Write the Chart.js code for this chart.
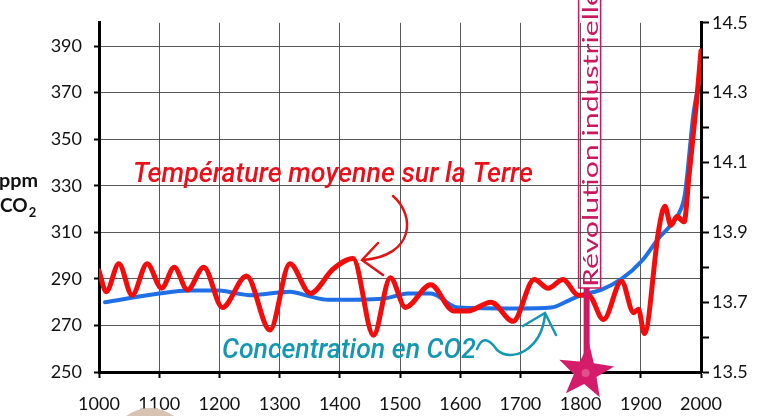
<!DOCTYPE html>
<html>
<head>
<meta charset="utf-8">
<script src="https://cdn.jsdelivr.net/npm/chart.js@4"></script>
<style>
  html, body { margin: 0; padding: 0; background: #fff; }
  #wrap { width: 761px; height: 416px; }
</style>
</head>
<body>
<div id="wrap"><canvas id="chart" width="761" height="416"></canvas></div>
<script>
// CO2 concentration (ppm, left axis)
const co2Years  = [1010, 1100, 1150, 1200, 1230, 1250, 1317, 1350, 1380, 1472, 1513, 1551, 1596, 1696, 1751, 1780, 1801, 1835, 1868, 1902, 1930, 1946, 1963, 1973, 1988, 2000];
const co2Values = [280, 283.7, 285, 285, 283.7, 283, 284.5, 282.5, 281, 281.5, 283.7, 283.7, 277.7, 277.3, 277.7, 280.7, 283, 285.4, 290, 297.8, 307.6, 312, 318, 326, 362, 378];

// mean temperature of the Earth (°C, right axis)
const tempYears  = [1000, 1012, 1033, 1055, 1080, 1104, 1125, 1147, 1174, 1205, 1245, 1284, 1317, 1351, 1389, 1422, 1456, 1484, 1509, 1551, 1589, 1613, 1651, 1688, 1723, 1746, 1771, 1796, 1813, 1838, 1868, 1888, 1896, 1906, 1930, 1940, 1950, 1960, 1972, 1980, 1993, 2000];
const tempValues = [13.79, 13.73, 13.81, 13.72, 13.81, 13.74, 13.80, 13.735, 13.80, 13.685, 13.775, 13.62, 13.81, 13.725, 13.795, 13.825, 13.605, 13.77, 13.685, 13.75, 13.675, 13.675, 13.70, 13.645, 13.765, 13.74, 13.765, 13.72, 13.72, 13.65, 13.76, 13.67, 13.68, 13.61, 13.91, 13.975, 13.92, 13.945, 13.93, 14.06, 14.28, 14.42];

const yearTicks = [1000, 1100, 1200, 1300, 1400, 1500, 1600, 1700, 1800, 1900, 2000];
const revolutionYear = 1810;

function fitText(ctx, text, x, y, width) {
    const w = ctx.measureText(text).width;
    ctx.save();
    ctx.translate(x, y);
    ctx.scale(width / w, 1);
    ctx.fillText(text, 0, 0);
    ctx.restore();
}

function star(ctx, cx, cy, r1, r2, rot) {
    ctx.beginPath();
    for (let i = 0; i < 10; i++) {
        const r = i % 2 ? r2 : r1;
        const a = rot - Math.PI / 2 + i * Math.PI / 5;
        ctx.lineTo(cx + r * Math.cos(a), cy + r * Math.sin(a));
    }
    ctx.closePath();
}

const annotations = {
    id: 'annotations',
    afterDraw(chart) {
        const ctx = chart.ctx;
        ctx.save();

        // axis title on the left
        ctx.fillStyle = '#111';
        ctx.font = 'bold 19px Lato';
        ctx.textBaseline = 'alphabetic';
        fitText(ctx, 'ppm', -1, 187, 39);
        ctx.fillText('CO', 0, 212);
        const coW = ctx.measureText('CO').width;
        ctx.font = 'bold 13px Lato';
        ctx.fillText('2', coW + 1, 217);

        // red label + arrow
        ctx.fillStyle = '#e8101a';
        ctx.font = 'italic 500 27px Roboto';
        fitText(ctx, 'Température moyenne sur la Terre', 133, 182, 400);
        ctx.strokeStyle = '#e01414';
        ctx.lineWidth = 2.5;
        ctx.lineCap = 'round';
        ctx.beginPath();
        ctx.moveTo(393, 196);
        ctx.bezierCurveTo(416, 216, 414, 256, 363, 260);
        ctx.stroke();
        ctx.beginPath();
        ctx.moveTo(378, 243);
        ctx.lineTo(362, 260);
        ctx.lineTo(383, 275);
        ctx.stroke();

        // teal label + arrow
        ctx.fillStyle = '#1497b1';
        ctx.font = 'italic 500 27px Roboto';
        fitText(ctx, 'Concentration en CO2', 222, 358, 254);
        ctx.strokeStyle = '#1497b1';
        ctx.beginPath();
        ctx.moveTo(477, 349);
        ctx.quadraticCurveTo(484, 331, 497, 350);
        ctx.bezierCurveTo(512, 363, 541, 350, 545, 315);
        ctx.stroke();
        ctx.beginPath();
        ctx.moveTo(523, 326);
        ctx.lineTo(545, 313);
        ctx.lineTo(556, 335);
        ctx.stroke();

        // industrial revolution marker
        const mag = '#c8185e';
        const bx = chart.scales.x.getPixelForValue(revolutionYear);
        ctx.strokeStyle = mag;
        ctx.lineWidth = 1.5;
        ctx.strokeRect(bx - 8, -4, 22, 292);
        ctx.save();
        ctx.translate(bx + 11, 287);
        ctx.rotate(-Math.PI / 2);
        ctx.fillStyle = mag;
        ctx.font = '22px Lato';
        fitText(ctx, 'Révolution industrielle', 0, 0, 297);
        ctx.restore();
        ctx.fillStyle = '#cc1a62';
        ctx.fillRect(bx - 3, 288, 6, 74);
        ctx.fillStyle = '#d41c6a';
        star(ctx, bx - 1, 372, 29, 12, 0.12);
        ctx.fill();
        ctx.fillStyle = '#e2508c';
        ctx.beginPath();
        ctx.arc(bx - 1, 373, 4, 0, Math.PI * 2);
        ctx.fill();

        // faint shape at the bottom left
        ctx.fillStyle = '#d8c3b3';
        ctx.beginPath();
        ctx.ellipse(150, 436, 34, 28, 0, Math.PI, 2 * Math.PI);
        ctx.fill();

        ctx.restore();
    }
};

const gridColor = 'rgba(60,60,60,0.85)';
const tickFont = { family: 'Lato', size: 18 };

new Chart(document.getElementById('chart'), {
    type: 'line',
    data: {
        datasets: [{
            label: 'Température',
            data: tempYears.map((y, i) => ({ x: y, y: tempValues[i] })),
            yAxisID: 'y1',
            borderColor: '#f20c0c',
            borderWidth: 5,
            pointRadius: 0,
            cubicInterpolationMode: 'monotone',
            borderCapStyle: 'round',
            borderJoinStyle: 'round'
        }, {
            label: 'CO2',
            data: co2Years.map((y, i) => ({ x: y, y: co2Values[i] })),
            yAxisID: 'y',
            borderColor: '#1f6fe6',
            borderWidth: 4,
            pointRadius: 0,
            cubicInterpolationMode: 'monotone',
            borderCapStyle: 'round'
        }]
    },
    options: {
        responsive: false,
        animation: false,
        layout: { padding: { top: 20, left: 0, right: 0, bottom: 0 } },
        plugins: { legend: { display: false }, tooltip: { enabled: false } },
        scales: {
            x: {
                type: 'linear',
                min: 1000,
                max: 2000,
                afterBuildTicks: (s) => { s.ticks = yearTicks.map(v => ({ value: v })); },
                afterFit: (s) => { s.height = 44; },
                border: { color: '#000', width: 3 },
                grid: { color: gridColor, lineWidth: 1, tickLength: 6, tickColor: '#000', tickWidth: 2 },
                ticks: { font: tickFont, color: '#111', padding: 15, maxRotation: 0, callback: (v) => String(v) }
            },
            y: {
                position: 'left',
                min: 250,
                max: 400,
                afterFit: (s) => { s.width = 99; },
                border: { color: '#000', width: 3 },
                grid: { color: gridColor, lineWidth: 1, tickLength: 5, tickColor: '#000', tickWidth: 2 },
                ticks: {
                    stepSize: 10, font: tickFont, color: '#111', padding: 12,
                    callback: (v) => ((v - 250) % 20 === 0 && v < 400) ? String(v) : ''
                }
            },
            y1: {
                position: 'right',
                min: 13.5,
                max: 14.5,
                afterFit: (s) => { s.width = 60; },
                border: { color: '#000', width: 3 },
                grid: { drawOnChartArea: false, tickLength: 8, tickColor: '#000', tickWidth: 2 },
                ticks: {
                    stepSize: 0.1, font: tickFont, color: '#111', padding: 3,
                    callback: (v) => (Math.round(v * 10) % 2 === 1) ? v.toFixed(1) : ''
                }
            }
        }
    },
    plugins: [annotations]
});
</script>
</body>
</html>
